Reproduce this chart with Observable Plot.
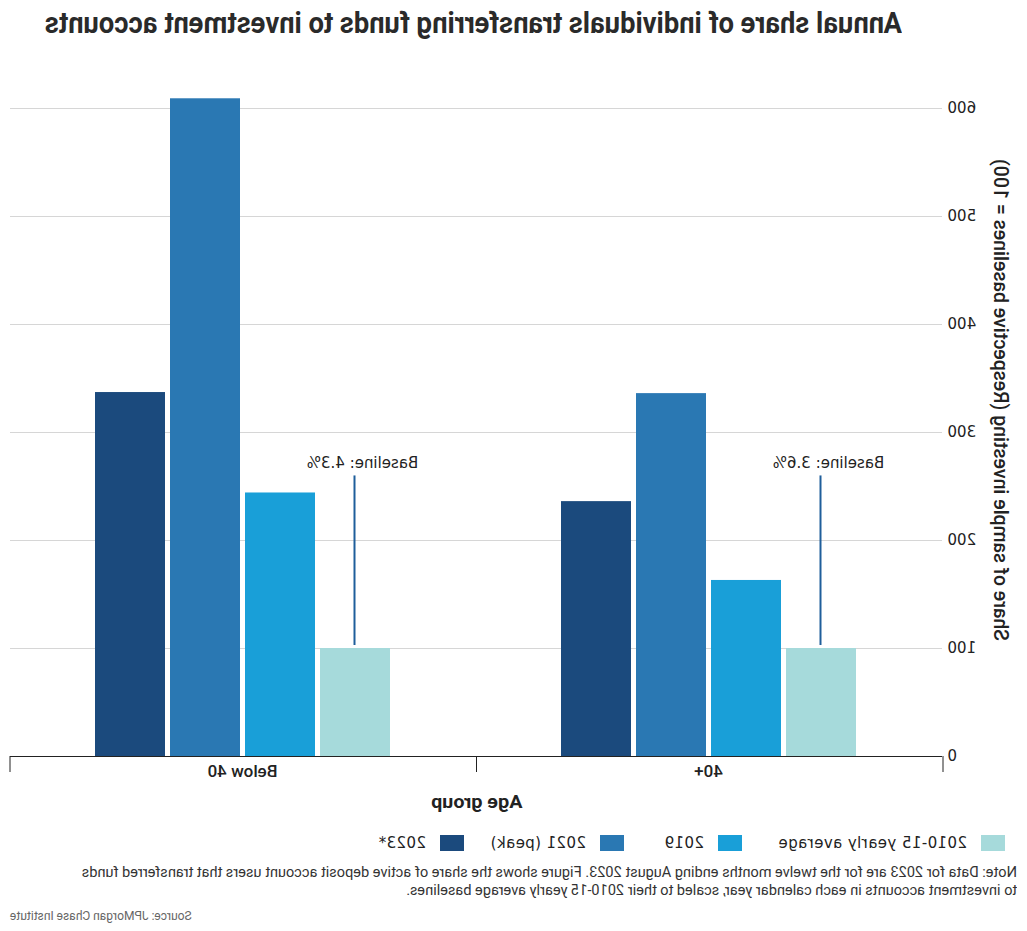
<!DOCTYPE html>
<html>
<head>
<meta charset="utf-8">
<script src="https://cdn.jsdelivr.net/npm/d3@7"></script>
<script src="https://cdn.jsdelivr.net/npm/@observablehq/plot@0.6"></script>
<style>
  html, body { margin: 0; padding: 0; background: #fff; }
  #page { position: relative; width: 1027px; height: 931px; transform: scaleX(-1); transform-origin: center; overflow: hidden; }
  .abs { position: absolute; }
  .fit { display: inline-block; white-space: nowrap; transform-origin: center; }
  #title { top: 5px; left: 84px; width: 933px; text-align: center; font-family: Roboto, sans-serif; font-weight: bold; font-size: 30px; color: #2a2a2a; }
  #chart { top: 50px; left: 0; }
  #ylabel { left: 27px; top: 400px; transform: translate(-50%, -50%) rotate(-90deg); white-space: nowrap; font-family: Roboto, sans-serif; font-weight: 500; font-size: 19.5px; color: #222; }
  #xlabel { top: 790px; left: 84px; width: 933px; text-align: center; font-family: Roboto, sans-serif; font-weight: bold; font-size: 19px; color: #222; }
  #legend { top: 834px; left: 0; width: 1027px; height: 20px; font-family: "DejaVu Sans", sans-serif; font-size: 15px; letter-spacing: 0.4px; color: #222; }
  #legend .item { position: absolute; top: 0; display: flex; align-items: center; white-space: nowrap; }
  #legend .sw { width: 24px; height: 16px; margin-right: 14px; }
  #note { top: 864px; left: 10px; width: 1015px; font-family: Roboto, sans-serif; font-size: 14.55px; line-height: 18px; color: #333; white-space: nowrap; }
  #source { top: 909px; right: 10px; font-family: Roboto, sans-serif; font-size: 12px; color: #666; }
</style>
</head>
<body>
<div id="page">
  <div id="title" class="abs"><span class="fit"></span></div>
  <div id="chart" class="abs"></div>
  <div id="ylabel" class="abs"></div>
  <div id="xlabel" class="abs"><span class="fit"></span></div>
  <div id="legend" class="abs"></div>
  <div id="note" class="abs"></div>
  <div id="source" class="abs"></div>
</div>
<script>
const titleText = "Annual share of individuals transferring funds to investment accounts";
const yLabelText = "Share of sample investing (Respective baselines = 100)";
const xLabelText = "Age group";
const noteLines = [
  "Note: Data for 2023 are for the twelve months ending August 2023. Figure shows the share of active deposit account users that transferred funds",
  "to investment accounts in each calendar year, scaled to their 2010-15 yearly average baselines."
];
const sourceText = "Source: JPMorgan Chase Institute";

const ageGroups = ["40+", "Below 40"];
const series = ["2010-15 yearly average", "2019", "2021 (peak)", "2023*"];
const colors = ["#a6dadb", "#199fd8", "#2a78b3", "#1b4a7d"];
const valuesOver40 = [100, 163, 336, 236];
const valuesBelow40 = [100, 244, 609, 337];
const baselineLabels = ["Baseline: 3.6%", "Baseline: 4.3%"];
const baselineLineTop = 257;
const baselineTextY = 272;
const yTicks = [0, 100, 200, 300, 400, 500, 600];

const rows = [];
ageGroups.forEach((g, gi) => {
  const vals = gi === 0 ? valuesOver40 : valuesBelow40;
  series.forEach((s, si) => rows.push({group: g, series: s, value: vals[si]}));
});
const annot = ageGroups.map((g, i) => ({group: g, series: series[0], label: baselineLabels[i]}));

document.querySelector("#title .fit").textContent = titleText;
document.getElementById("ylabel").textContent = yLabelText;
document.querySelector("#xlabel .fit").textContent = xLabelText;
document.getElementById("note").innerHTML = noteLines.join("<br>");
document.getElementById("source").textContent = sourceText;

// condense text to the reference widths
function fit(sel, target) {
  const el = document.querySelector(sel);
  const w = el.offsetWidth;
  if (w > 0) el.style.transform = `scaleX(${target / w})`;
}
fit("#title .fit", 857);
fit("#xlabel .fit", 91);

const legendLefts = [22, 285, 403, 563];
const legend = d3.select("#legend");
series.forEach((s, i) => {
  const it = legend.append("div").attr("class", "item").style("left", legendLefts[i] + "px");
  it.append("div").attr("class", "sw").style("background", colors[i]);
  it.append("span").text(s);
});

const W = 1027, H = 770, mL = 84, mR = 10, mT = 58, mB = 64;
const chart = Plot.plot({
  width: W, height: H,
  marginLeft: mL, marginRight: mR, marginTop: mT, marginBottom: mB,
  style: {fontFamily: "DejaVu Sans, sans-serif", fontSize: "15px", color: "#222", background: "transparent"},
  fx: {domain: ageGroups, padding: 0, label: null, axis: "bottom", tickSize: 0, tickPadding: 8},
  x: {domain: series, axis: null, paddingInner: 0.067, paddingOuter: 1.14},
  y: {domain: [0, 600], ticks: yTicks, label: null, tickSize: 0, tickPadding: 6, grid: false},
  color: {domain: series, range: colors},
  marks: [
    Plot.ruleY(yTicks.filter(d => d > 0), {stroke: "#d6d6d6", strokeWidth: 1}),
    Plot.barY(rows, {fx: "group", x: "series", y: "value", fill: "series"}),
    Plot.ruleY([0], {stroke: "#222", strokeWidth: 1}),
    Plot.ruleX(annot, {fx: "group", x: "series", y1: 100, y2: baselineLineTop, stroke: "#1f5e9b", strokeWidth: 2, dy: -3}),
    Plot.text(annot, {fx: "group", x: "series", y: baselineTextY, text: "label", fontSize: 15, fill: "#222", dx: -8})
  ]
});
document.getElementById("chart").appendChild(chart);

// fx axis styling
d3.select(chart).selectAll('[aria-label^="fx-axis"] text')
  .style("font-family", "Roboto, sans-serif")
  .style("font-weight", "500")
  .style("font-size", "17px");

// tick marks at band boundaries
const fxs = chart.scale("fx");
const ys = chart.scale("y");
const band = d3.scaleBand(fxs.domain, fxs.range).paddingInner(0).paddingOuter(0);
const yLin = d3.scaleLinear(ys.domain, ys.range);
const bounds = [band.range()[0], ...ageGroups.slice(1).map(g => band(g)), band.range()[1]];
const y0 = yLin(0);
d3.select(chart).append("g").attr("aria-label", "band-ticks")
  .selectAll("line").data(bounds).join("line")
  .attr("x1", d => d).attr("x2", d => d)
  .attr("y1", y0).attr("y2", y0 + 16)
  .attr("stroke", "#222");
</script>
</body>
</html>
